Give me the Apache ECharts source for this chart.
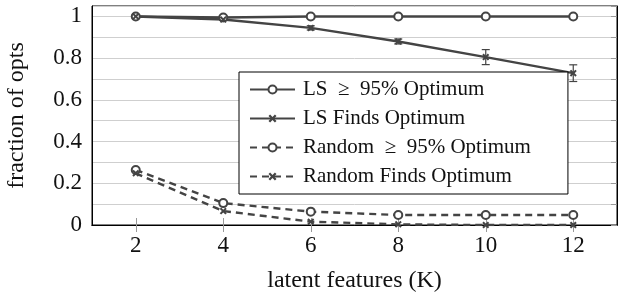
<!DOCTYPE html>
<html>
<head>
<meta charset="utf-8">
<script src="https://cdn.jsdelivr.net/npm/echarts@6/dist/echarts.min.js"></script>
<style>
  html, body { margin: 0; padding: 0; background: #fff; }
  #chart { width: 621px; height: 293px; }
</style>
</head>
<body>
<div id="chart"></div>
<script>
  // latent features K
  var kValues = [2, 4, 6, 8, 10, 12];
  // fraction of opts
  var lsNear = [1, 0.995, 1, 1, 1, 1];
  var lsFinds = [1, 0.985, 0.945, 0.88, 0.805, 0.728];
  var lsFindsErr = [0, 0.004, 0.01, 0.012, 0.036, 0.04];
  var randNear = [0.264, 0.105, 0.064, 0.048, 0.048, 0.048];
  var randFinds = [0.248, 0.067, 0.016, 0.003, 0, 0];
  var yLabels = [0, 0.2, 0.4, 0.6, 0.8, 1];

  var names = ['LS  \u2265  95% Optimum', 'LS Finds Optimum', 'Random  \u2265  95% Optimum', 'Random Finds Optimum'];
  var fontFam = '"Liberation Serif", "DejaVu Serif", serif';
  var ink = '#444';
  // bold little x mark
  var cross = 'path://M0,2 L2,0 L5,3 L8,0 L10,2 L7,5 L10,8 L8,10 L5,7 L2,10 L0,8 L3,5 Z';

  function pairs(vals) {
    return kValues.map(function (k, i) { return [k, vals[i]]; });
  }

  function lineSeries(name, vals, dashed, mark) {
    return {
      name: name,
      type: 'line',
      data: pairs(vals),
      symbol: mark === 'circle' ? 'emptyCircle' : cross,
      symbolSize: mark === 'circle' ? 8 : 7,
      showAllSymbol: true,
      lineStyle: { color: ink, width: 2.4, type: dashed ? [7, 5] : 'solid' },
      itemStyle: { color: ink, borderColor: ink, borderWidth: mark === 'circle' ? 2.5 : 0 },
      emphasis: { disabled: true },
      z: 3
    };
  }

  var errData = kValues.map(function (k, i) {
    return [k, lsFinds[i] - lsFindsErr[i], lsFinds[i] + lsFindsErr[i]];
  });

  var chart = echarts.init(document.getElementById('chart'));
  var option = {
    animation: false,
    textStyle: { fontFamily: fontFam },
    grid: {
      left: 92, top: 6, right: 4, bottom: 68,
      outerBoundsMode: 'none',
      show: true, borderColor: '#000', borderWidth: 1
    },
    legend: {
      data: names,
      orient: 'vertical',
      left: 239, top: 72,
      padding: [7, 37, 7, 10],
      backgroundColor: '#fff',
      borderColor: '#000',
      borderWidth: 1,
      itemWidth: 45,
      itemHeight: 10,
      itemGap: 8,
      textStyle: { fontFamily: fontFam, fontSize: 21, color: '#111', padding: [0, 0, 0, 3] },
      z: 10
    },
    xAxis: [{
      type: 'value', min: 1, max: 13,
      name: 'latent features (K)',
      nameLocation: 'middle',
      nameGap: 44,
      nameTextStyle: { fontSize: 24, color: '#111', fontFamily: fontFam },
      axisLine: { lineStyle: { color: '#000', width: 1 } },
      axisTick: { inside: true, length: 7, customValues: kValues, lineStyle: { color: '#999' } },
      axisLabel: { customValues: kValues, fontSize: 23, color: '#111', margin: 9, fontFamily: fontFam },
      splitLine: { show: false }
    }, {
      type: 'value', min: 1, max: 13, position: 'top',
      axisLine: { lineStyle: { color: '#000', width: 1 } },
      axisTick: { inside: true, length: 7, customValues: kValues, lineStyle: { color: '#999' } },
      axisLabel: { show: false },
      splitLine: { show: false }
    }],
    yAxis: [{
      type: 'value', min: 0, max: 1.05, interval: 0.1,
      name: 'fraction of opts',
      nameLocation: 'middle',
      nameGap: 63,
      nameTextStyle: { fontSize: 24, color: '#111', fontFamily: fontFam },
      axisLine: { show: true, lineStyle: { color: '#000', width: 1 } },
      axisTick: { show: false },
      axisLabel: {
        fontSize: 23, color: '#111', margin: 10, fontFamily: fontFam,
        formatter: function (v) {
          for (var i = 0; i < yLabels.length; i++) {
            if (Math.abs(v - yLabels[i]) < 1e-6) return String(yLabels[i]);
          }
          return '';
        }
      },
      splitLine: { show: true, lineStyle: { color: '#cfcfcf', width: 1 } }
    }, {
      type: 'value', min: 0, max: 1.05, interval: 0.1, position: 'right',
      axisLine: { show: true, lineStyle: { color: '#000', width: 1 } },
      axisTick: { show: true, inside: true, length: 6, lineStyle: { color: '#999' } },
      axisLabel: { show: false },
      splitLine: { show: false }
    }],
    series: [
      lineSeries(names[0], lsNear, false, 'circle'),
      lineSeries(names[1], lsFinds, false, 'cross'),
      lineSeries(names[2], randNear, true, 'circle'),
      lineSeries(names[3], randFinds, true, 'cross'),
      {
        name: 'err',
        type: 'custom',
        data: errData,
        z: 2,
        renderItem: function (params, api) {
          var lo = api.coord([api.value(0), api.value(1)]);
          var hi = api.coord([api.value(0), api.value(2)]);
          var cap = 4;
          var st = { stroke: ink, lineWidth: 1.2 };
          return {
            type: 'group',
            children: [
              { type: 'line', shape: { x1: lo[0], y1: lo[1], x2: hi[0], y2: hi[1] }, style: st },
              { type: 'line', shape: { x1: lo[0] - cap, y1: lo[1], x2: lo[0] + cap, y2: lo[1] }, style: st },
              { type: 'line', shape: { x1: hi[0] - cap, y1: hi[1], x2: hi[0] + cap, y2: hi[1] }, style: st }
            ]
          };
        }
      }
    ]
  };
  chart.setOption(option);
</script>
</body>
</html>
